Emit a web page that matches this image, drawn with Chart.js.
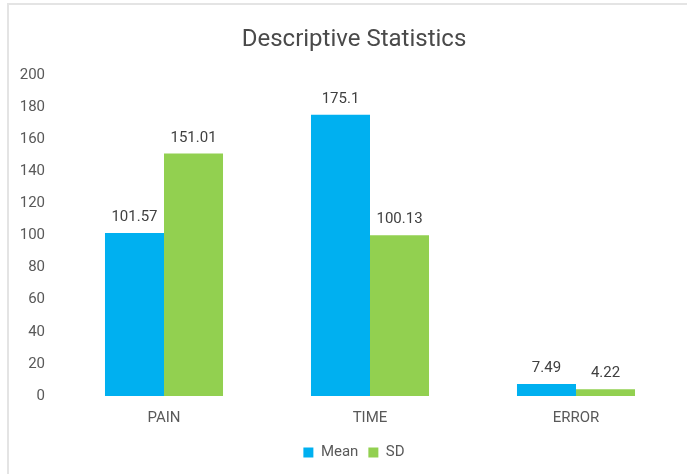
<!DOCTYPE html>
<html>
<head>
<meta charset="utf-8">
<script src="https://cdn.jsdelivr.net/npm/chart.js@4/dist/chart.umd.min.js"></script>
<style>
  html, body { margin: 0; padding: 0; background: #fff; overflow: hidden; }
  .wrap { position: relative; width: 687px; height: 474px; overflow: hidden; }
  .frame {
    position: absolute; left: 7px; top: 3px; right: -4px; bottom: -4px;
    border-top: 2px solid #e4e4e4; border-left: 2px solid #e4e4e4;
    pointer-events: none;
  }
</style>
</head>
<body>
<div class="wrap">
  <!-- chart is a bit wider than the visible area, its right edge runs off -->
  <canvas id="chart" width="708" height="474"></canvas>
  <div class="frame"></div>
</div>
<script>
const categories = ['PAIN', 'TIME', 'ERROR'];
const meanValues = [101.57, 175.1, 7.49];
const sdValues = [151.01, 100.13, 4.22];
const yTicks = { min: 0, max: 200, step: 20 };

const TEXT = '#595959';
const FONT = 'Roboto, "Noto Sans", sans-serif';

// value labels above each bar
const barValues = {
  id: 'barValues',
  afterDatasetsDraw(chart) {
    const { ctx } = chart;
    ctx.save();
    ctx.font = `15px ${FONT}`;
    ctx.fillStyle = '#404040';
    ctx.textAlign = 'center';
    ctx.textBaseline = 'bottom';
    chart.data.datasets.forEach((ds, i) => {
      chart.getDatasetMeta(i).data.forEach((bar, j) => {
        ctx.fillText(String(ds.data[j]), bar.x, bar.y - 8);
      });
    });
    ctx.restore();
  },
};

new Chart(document.getElementById('chart'), {
  type: 'bar',
  data: {
    labels: categories,
    datasets: [
      { label: 'Mean', data: meanValues, backgroundColor: '#00b0f0' },
      { label: 'SD', data: sdValues, backgroundColor: '#92d050' },
    ],
  },
  options: {
    responsive: false,
    animation: false,
    layout: { padding: { left: 0, right: 0, top: 0, bottom: 4 } },
    datasets: { bar: { categoryPercentage: 0.573, barPercentage: 1.0 } },
    plugins: {
      title: {
        display: true,
        text: 'Descriptive Statistics',
        color: '#4a4a4a',
        font: { family: FONT, size: 24, weight: 'normal' },
        padding: { top: 26, bottom: 20 },
      },
      legend: {
        position: 'bottom',
        labels: {
          color: TEXT,
          font: { family: FONT, size: 15 },
          boxWidth: 10,
          boxHeight: 10,
          padding: 10,
        },
      },
      tooltip: { enabled: false },
    },
    scales: {
      x: {
        grid: { display: false },
        border: { display: false },
        ticks: { color: TEXT, font: { family: FONT, size: 15 }, padding: 5 },
        afterFit: (s) => { s.height = 39; },
      },
      y: {
        min: yTicks.min,
        max: yTicks.max,
        grid: { display: false },
        border: { display: false },
        ticks: {
          stepSize: yTicks.step,
          color: TEXT,
          font: { family: FONT, size: 15 },
          padding: 8,
        },
        afterFit: (s) => { s.width = 61; },
      },
      // empty right-hand gutter so the plot stops short of the frame edge
      yGutter: {
        type: 'linear',
        position: 'right',
        grid: { display: false },
        border: { display: false },
        ticks: { display: false },
        afterFit: (s) => { s.width = 29; },
      },
    },
  },
  plugins: [barValues],
});
</script>
</body>
</html>
